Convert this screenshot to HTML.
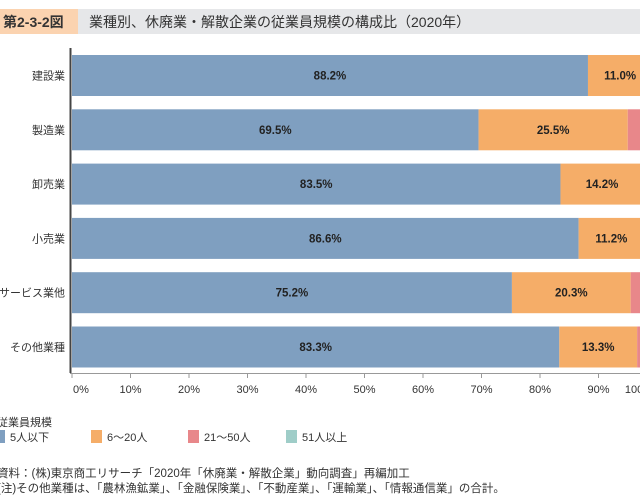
<!DOCTYPE html>
<html><head><meta charset="utf-8"><style>
body{margin:0;width:640px;height:498px;background:#fff;overflow:hidden;font-family:"Liberation Sans","Noto Sans CJK JP",sans-serif;position:relative}
.t{position:absolute;white-space:nowrap}
</style></head><body>
<div style="position:absolute;left:0;top:9px;width:640px;height:25px;background:#e6e7e9"></div>
<div style="position:absolute;left:0;top:9px;width:78px;height:25px;background:#fbd3b0"></div>
<div class="t" style="left:3px;top:12px;font-size:14px;font-weight:bold;color:#333">第2-3-2図</div>
<div class="t" style="left:89px;top:12px;font-size:14px;color:#333">業種別、休廃業・解散企業の従業員規模の構成比（2020年）</div>
<svg id="chart" width="640" height="498" style="position:absolute;left:0;top:0"></svg>
<div class="t" style="left:-3px;top:414px;font-size:11px;color:#333">従業員規模</div>
<div id="legend"></div>
<div class="t" style="left:-3px;top:465px;font-size:11.5px;color:#333">資料：(株)東京商工リサーチ「2020年「休廃業・解散企業」動向調査」再編加工</div>
<div class="t" style="left:-3px;top:480px;font-size:11.5px;color:#333">(注)その他業種は、「農林漁鉱業」、「金融保険業」、「不動産業」、「運輸業」、「情報通信業」の合計。</div>
<script>
const categories=["建設業","製造業","卸売業","小売業","サービス業他","その他業種"];
const seriesNames=["5人以下","6～20人","21～50人","51人以上"];
const s1=[88.2,69.5,83.5,86.6,75.2,83.3];
const s2=[11.0,25.5,14.2,11.2,20.3,13.3];
const s3=[0.6,4.2,2.0,1.8,3.8,2.8];
const s4=[0.2,0.8,0.3,0.4,0.7,0.6];
const ticks=[0,10,20,30,40,50,60,70,80,90,100];
const colors=["#7f9fc0","#f5ad68","#e8878a","#9fcdc8"];
const ns="http://www.w3.org/2000/svg";
const svg=document.getElementById('chart');
const x0=72,W=585,y0=55,step=54.3,bh=41;
const X=v=>x0+v/100*W;
const Y=i=>y0+i*step;
function mk(t,a){const e=document.createElementNS(ns,t);for(const k in a)e.setAttribute(k,a[k]);svg.appendChild(e);return e;}
const series=[s1,s2,s3,s4];
categories.forEach((c,i)=>{
  let acc=0;
  series.forEach((s,j)=>{
    const r=mk('rect',{x:X(acc),y:Y(i),width:X(acc+s[i])-X(acc),height:bh,fill:colors[j]});
    
    
    if(j<2){
      const t=mk('text',{x:(X(acc)+X(acc+s[i]))/2,y:Y(i)+bh/2+4,'text-anchor':'middle','font-size':11.5,'font-weight':'bold',fill:'#222'});
      t.textContent=s[i].toFixed(1)+'%';
      
      
    }
    acc+=s[i];
  });
  const l=mk('text',{x:65,y:Y(i)+bh/2+4,'text-anchor':'end','font-size':11,fill:'#333'});
  l.textContent=c;
  
  
});
const ax=mk('line',{x1:70.5,y1:48,x2:70.5,y2:373,stroke:'#444','stroke-width':2});


const bx=mk('line',{x1:70,y1:373.5,x2:640,y2:373.5,stroke:'#999','stroke-width':1});


ticks.forEach(v=>{
  const tk=mk('line',{x1:X(v),y1:373,x2:X(v),y2:378,stroke:'#999'});
  
  
  const lx=v===0?X(v)+9:(v===100?X(v)-18:X(v));
  const t=mk('text',{x:lx,y:393,'text-anchor':'middle','font-size':11,fill:'#333'});
  t.textContent=v+'%';
  
  
});
const lg=document.getElementById('legend');
const lx=[-6,91,188,286];
seriesNames.forEach((n,j)=>{
  const b=document.createElement('div');
  
  
  b.style.cssText=`position:absolute;left:${lx[j]}px;top:430px;width:11px;height:13px;background:${colors[j]}`;
  lg.appendChild(b);
  const t=document.createElement('div');
  
  
  t.className='t';
  t.style.cssText=`left:${lx[j]+16}px;top:429px;font-size:11px;color:#333`;
  t.textContent=n;
  lg.appendChild(t);
});
</script>
</body></html>
